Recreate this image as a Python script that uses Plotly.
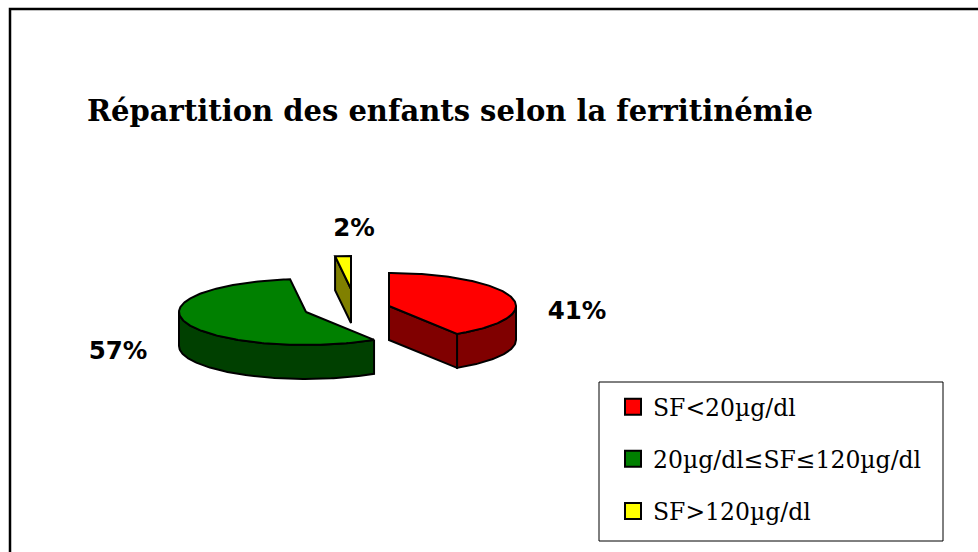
import numpy as np
import plotly.graph_objects as go

categories = ["SF<20µg/dl", "20µg/dl≤SF≤120µg/dl", "SF>120µg/dl"]
values = [41, 57, 2]
labels = ["41%", "57%", "2%"]
top_colors = ["#FF0000", "#008000", "#FFFF00"]
side_colors = ["#800000", "#004000", "#808000"]
centers_x = [389, 306, 351]
centers_y = [306, 312, 289]
label_x = [577, 118, 354]
label_y = [313, 353, 230]

RX, RY, DEPTH = 127, 33, 34
W, H = 978, 552


def rim(cx, cy, a0, a1, dy=0):
    t = np.radians(np.linspace(a0, a1, max(3, int(abs(a1 - a0)) + 2)))
    return cx + RX * np.sin(t), cy - RY * np.cos(t) + dy


def add_poly(fig, x, y, color):
    fig.add_trace(go.Scatter(
        x=np.append(x, x[0]), y=np.append(y, y[0]), mode="lines", fill="toself",
        fillcolor=color, line=dict(color="black", width=2),
        showlegend=False, hoverinfo="skip"))


fig = go.Figure()
edges = np.concatenate([[0], np.cumsum(values)]) * 3.6
edges[-1] = 360

for i in [2, 1, 0]:
    a0, a1 = edges[i], edges[i + 1]
    cx, cy = centers_x[i], centers_y[i]
    # outer wall: the part of the rim that faces the viewer (90..270 degrees)
    w0, w1 = max(a0, 90), min(a1, 270)
    if w1 > w0:
        xt, yt = rim(cx, cy, w0, w1)
        add_poly(fig, np.r_[xt, xt[::-1]], np.r_[yt, yt[::-1] + DEPTH], side_colors[i])
    # visible radial wall
    if i == 0:
        xe, ye = rim(cx, cy, a1, a1)
        xe, ye = xe[0], ye[0]
        add_poly(fig, np.array([cx, xe, xe, cx]),
                 np.array([cy, ye, ye + DEPTH, cy + DEPTH]), side_colors[i])
    if i == 2:
        xe, ye = rim(cx, cy, a0, a0)
        xe, ye = xe[0], ye[0]
        add_poly(fig, np.array([xe, cx, cx, xe]),
                 np.array([ye, cy, cy + DEPTH, ye + DEPTH]), side_colors[i])
    # top face
    xt, yt = rim(cx, cy, a0, a1)
    add_poly(fig, np.r_[cx, xt], np.r_[cy, yt], top_colors[i])

# legend entries
for name, color in zip(categories, top_colors):
    fig.add_trace(go.Scatter(
        x=[None], y=[None], mode="markers", name=name, legendgroup=name,
        marker=dict(symbol="square", size=16, color=color, line=dict(color="black", width=2))))

# percentage labels
fig.add_trace(go.Scatter(
    x=label_x, y=label_y, mode="text", text=labels, showlegend=False, hoverinfo="skip",
    textposition="middle center",
    textfont=dict(family="DejaVu Sans", size=24.5, color="black", weight="bold")))

fig.update_layout(
    width=W, height=H,
    margin=dict(l=0, r=0, t=0, b=0),
    paper_bgcolor="white", plot_bgcolor="white",
    xaxis=dict(range=[0, W], visible=False, fixedrange=True),
    yaxis=dict(range=[H, 0], visible=False, fixedrange=True),
    title=dict(text="<b>Répartition des enfants selon la ferritinémie</b>",
               x=87 / W, xanchor="left", y=1 - 111 / H, yanchor="middle",
               font=dict(family="DejaVu Serif", size=29, color="black")),
    legend=dict(x=613 / W, y=1 - 385 / H, xanchor="left", yanchor="top",
                bgcolor="rgba(0,0,0,0)", tracegroupgap=18.5, itemsizing="trace",
                font=dict(family="DejaVu Serif", size=23.5, color="black")),
    shapes=[
        dict(type="rect", xref="x", yref="y", x0=10, y0=9, x1=990, y1=570,
             line=dict(color="black", width=2.5), layer="below"),
        dict(type="rect", xref="x", yref="y", x0=599, y0=382, x1=943, y1=541,
             line=dict(color="black", width=1), layer="below"),
    ],
)
fig.write_html("out.html", config={"displayModeBar": False},
               post_script="document.body.style.margin='0';document.documentElement.style.overflow='hidden';")
